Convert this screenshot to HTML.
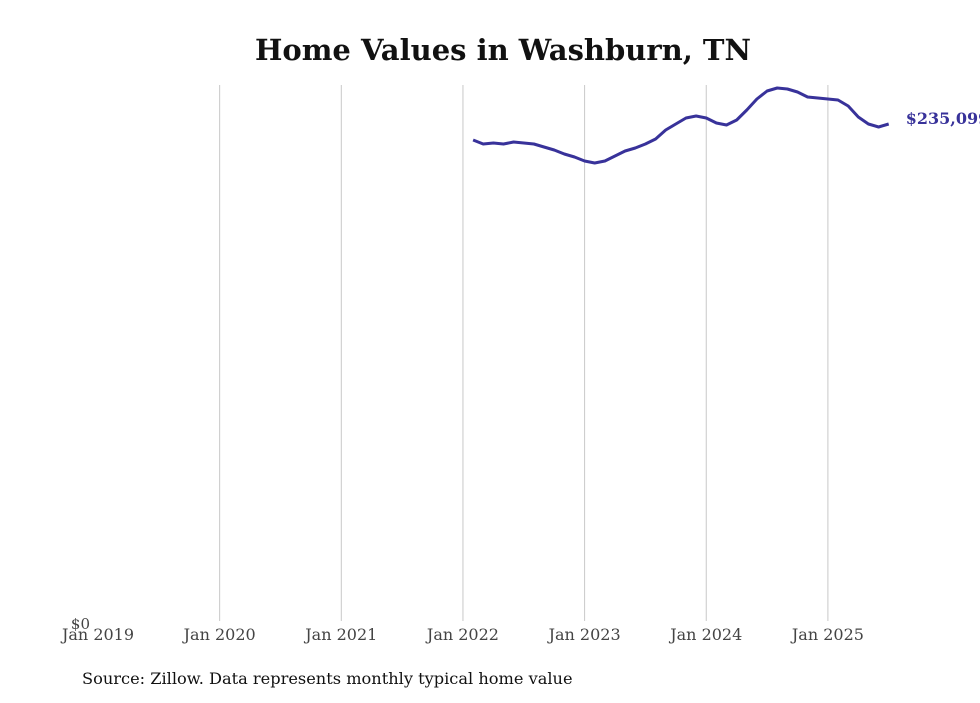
<!DOCTYPE html>
<html><head><meta charset="utf-8"><style>
body{margin:0;background:#fff;width:980px;height:699px;overflow:hidden;font-family:"DejaVu Serif","Liberation Serif",serif}
</style></head><body>
<svg width="980" height="699" xmlns="http://www.w3.org/2000/svg">
<text x="503" y="60" text-anchor="middle" font-size="29" font-weight="bold" fill="#111" font-family="DejaVu Serif, Liberation Serif, serif">Home Values in Washburn, TN</text>
<g id="grid"></g><g id="xt"></g>
<text x="90" y="629" text-anchor="end" font-size="15" fill="#444">$0</text>
<path id="line" fill="none" stroke="#38329a" stroke-width="3" stroke-linejoin="round"/>
<text id="lbl" font-size="16" font-weight="bold" fill="#38329a"></text>
<text x="82" y="684" font-size="16.2" fill="#111">Source: Zillow. Data represents monthly typical home value</text>
</svg>
<script>
const years=["Jan 2019","Jan 2020","Jan 2021","Jan 2022","Jan 2023","Jan 2024","Jan 2025"];
const startMonth=37; // Feb 2022, months since Jan 2019
const values=[227550,225660,226130,225660,226610,226130,225660,224240,222830,220940,219530,217640,216700,217640,220000,222360,223780,225660,228030,232270,235100,237930,238880,237930,235580,234630,237000,241720,246910,250690,252100,251630,250210,247850,247380,246910,246440,243600,238410,235100,233680,235099];
const NS="http://www.w3.org/2000/svg";
const x=m=>98+m*121.65/12;
const y=v=>622-v*498/235099;
const g=document.getElementById('grid'),xt=document.getElementById('xt');
years.forEach((t,i)=>{
 const X=x(i*12);
 if(i>0){const l=document.createElementNS(NS,'line');
 l.setAttribute('x1',X);l.setAttribute('x2',X);l.setAttribute('y1',85);l.setAttribute('y2',621);
 l.setAttribute('stroke','#c8c8c8');l.setAttribute('stroke-width','1');
 
 
 g.appendChild(l);}
 const tx=document.createElementNS(NS,'text');
 tx.setAttribute('x',X);tx.setAttribute('y',640);tx.setAttribute('text-anchor','middle');
 tx.setAttribute('font-size','16');tx.setAttribute('fill','#444');tx.textContent=t;
 
 
 xt.appendChild(tx);
});
document.getElementById('line').setAttribute('d',values.map((v,i)=>(i?'L':'M')+x(startMonth+i).toFixed(1)+','+y(v).toFixed(1)).join(''));
const last=values[values.length-1],lb=document.getElementById('lbl');
lb.setAttribute('x',x(startMonth+values.length-1)+17);lb.setAttribute('y',y(last)+0);
lb.textContent='$'+last.toLocaleString('en-US');
</script>
</body></html>
